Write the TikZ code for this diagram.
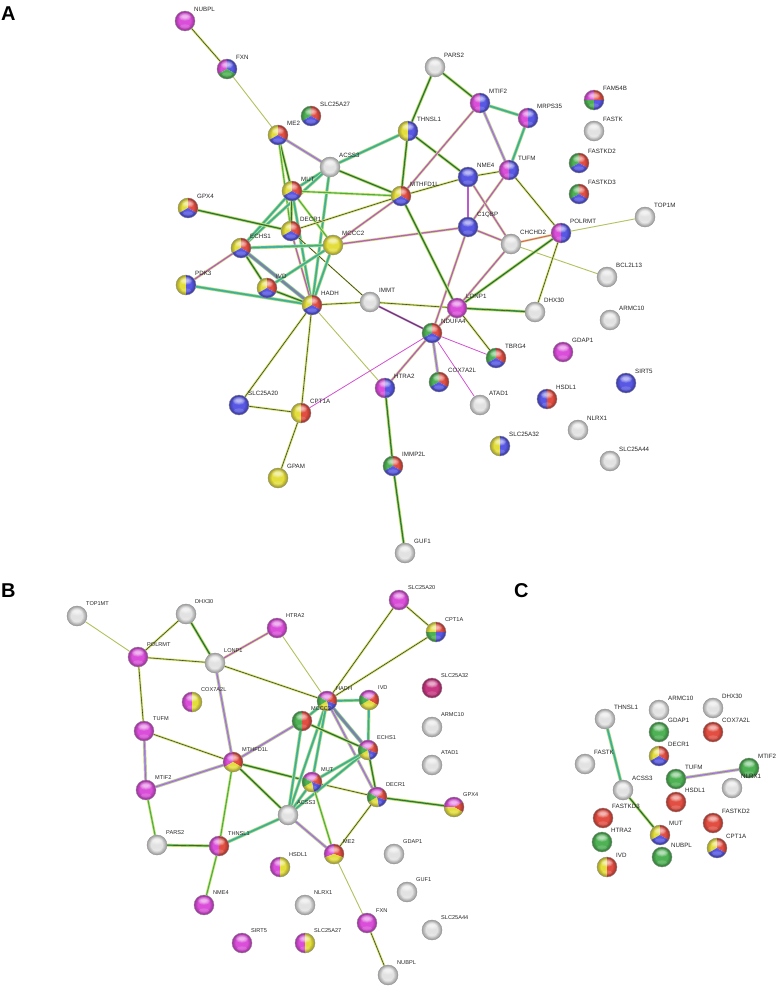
\documentclass[tikz,border=0pt]{standalone}
\usepackage{fontspec}
\setmainfont{Liberation Sans}
\pgfdeclarelayer{bg}
\pgfdeclarelayer{paper}
\pgfsetlayers{paper,bg,main}
\definecolor{cY}{RGB}{228,222,60}
\definecolor{cR}{RGB}{226,78,66}
\definecolor{cB}{RGB}{88,88,228}
\definecolor{cG}{RGB}{78,178,84}
\definecolor{cM}{RGB}{218,78,218}
\definecolor{cW}{RGB}{226,226,226}
\definecolor{cMR}{RGB}{200,55,130}
\definecolor{cTM}{RGB}{210,228,110}
\definecolor{cGr}{RGB}{70,175,80}
\definecolor{cCy}{RGB}{70,185,205}
\definecolor{cPu}{RGB}{185,90,205}
\definecolor{cLv}{RGB}{160,160,220}
\definecolor{cK}{RGB}{60,60,45}
\definecolor{cMg}{RGB}{210,80,210}
\definecolor{cPk}{RGB}{230,90,120}
\def\R{10}
\tikzset{
  ball/.style={circle, inner sep=0pt, minimum size={2*\R pt}},
  lab/.style={font=\fontsize{6.2}{7}\selectfont, text=black!85, inner sep=0pt, anchor=west},
  labB/.style={font=\fontsize{5.6}{6.5}\selectfont, text=black!85, inner sep=0pt, anchor=west},
  panel/.style={font=\fontsize{20}{22}\selectfont\bfseries, inner sep=0pt, anchor=base west},
  ey/.style={draw=cTM!85!black, line width=0.9},
  eyk/.style={draw=cK, line width=0.55, preaction={draw=cTM, line width=2.2}},
  eyg/.style={draw=cGr, line width=1.1, preaction={draw=cTM, line width=2.6}},
  eygk/.style={draw=cK, line width=0.45, preaction={draw=cTM, line width=3.0}, preaction={draw=cGr, line width=1.7}},
  eyc/.style={draw=cGr, line width=0.7, preaction={draw=cTM, line width=3.4}, preaction={draw=cCy, line width=2.2}},
  eyp/.style={draw=cPu, line width=1.3, preaction={draw=cTM, line width=2.6}},
  ebp/.style={draw=cPu, line width=0.6, preaction={draw=cTM, line width=3.2}, preaction={draw=cLv, line width=2.2}},
  ebig/.style={draw=cGr, line width=0.5, preaction={draw=cTM, line width=4.2}, preaction={draw=cCy, line width=3.2}, preaction={draw=cPu, line width=1.8}},
  emg/.style={draw=cMg, line width=0.8},
  emk/.style={draw=cK, line width=0.5, preaction={draw=cPu, line width=2}},
  ek/.style={draw=cK, line width=0.6, preaction={draw=cTM, line width=1.4}},
  emr/.style={draw=cPk, line width=1, preaction={draw=cTM, line width=2.2}}
}
\def\pW{0/360/cW}
\def\pY{0/360/cY}
\def\pR{0/360/cR}
\def\pB{0/360/cB}
\def\pG{0/360/cG}
\def\pM{0/360/cM}
\def\pYRB{90/210/cY,-30/90/cR,210/330/cB}
\def\pGRB{90/210/cG,-30/90/cR,210/330/cB}
\def\pYB{90/270/cY,-90/90/cB}
\def\pMB{90/270/cM,-90/90/cB}
\def\pYR{90/270/cY,-90/90/cR}
\def\pMY{90/270/cM,-90/90/cY}
\def\pMR{90/270/cM,-90/90/cR}
\def\pGR{90/270/cG,-90/90/cR}
\def\pBR{90/270/cB,-90/90/cR}
\def\pFIVE{50/150/cM,-20/50/cR,-80/-20/cB,210/280/cY,150/210/cG}
\newcommand\gloss[1]{%
  \foreach \k in {1,...,4}{\draw[black, opacity=0.07, line width=\k*0.9] (#1.center) circle [radius={\R-\k*0.45}];}
  \foreach \k in {1,...,4}{\fill[white, opacity=0.2] ([yshift={\R*0.42}]#1.center) ellipse [x radius={\R*(0.76-0.12*\k)}, y radius={\R*(0.46-0.08*\k)}];}
  \fill[white, opacity=0.15] ([yshift={-\R*0.55}]#1.center) ellipse [x radius={\R*0.5}, y radius={\R*0.22}];
  \draw[black!45, line width=0.35] (#1.center) circle [radius=\R];}
\newcommand\bn[6][lab]{%
  \node[ball] (#2) at (#3,-#4) {};
  \edef\tmplist{#6}%
  \foreach \sa/\ea/\cc in \tmplist {\fill[fill=\cc] (#2.center) -- ++(\sa:\R) arc[start angle=\sa, end angle=\ea, radius=\R] -- cycle;}
  \gloss{#2}
  \node[#1] (#2-l) at ([shift={(9,12)}]#2.center) {#5};}
\newcommand\lnk[3]{\draw[#1] (#2) -- (#3);}
\begin{document}
\begin{tikzpicture}[x=1pt,y=1pt]
\useasboundingbox (0,0) rectangle (778,-988);
\begin{pgfonlayer}{paper}
\fill[white] (0,0) rectangle (778,-988);
\end{pgfonlayer}
\node[panel] (pA) at (1,-20) {A};
\node[panel] (pB) at (1,-597) {B};
\node[panel] (pC) at (514,-597) {C};
% ---------------- Panel A ----------------
\bn{a-NUBPL}{185}{21}{NUBPL}{\pM}
\bn{a-FXN}{227}{69}{FXN}{90/210/cM,-30/90/cB,210/330/cG}
\bn{a-SLC25A27}{311}{116}{SLC25A27}{\pGRB}
\bn{a-ME2}{278}{135}{ME2}{\pYRB}
\bn{a-ACSS3}{330}{167}{ACSS3}{\pW}
\bn{a-MUT}{292}{191}{MUT}{\pYRB}
\bn{a-THNSL1}{408}{131}{THNSL1}{\pYB}
\bn{a-MTHFD1L}{401}{196}{MTHFD1L}{\pYRB}
\bn{a-GPX4}{188}{208}{GPX4}{\pYRB}
\bn{a-PARS2}{435}{67}{PARS2}{\pW}
\bn{a-MTIF2}{480}{103}{MTIF2}{\pMB}
\bn{a-MRPS35}{528}{118}{MRPS35}{\pMB}
\bn{a-NME4}{468}{177}{NME4}{\pB}
\bn{a-TUFM}{509}{170}{TUFM}{\pMB}
\bn{a-FAM54B}{594}{100}{FAM54B}{90/180/cM,0/90/cR,180/270/cG,270/360/cB}
\bn{a-FASTK}{594}{131}{FASTK}{\pW}
\bn{a-FASTKD2}{579}{163}{FASTKD2}{\pGRB}
\bn{a-FASTKD3}{579}{194}{FASTKD3}{\pGRB}
\bn{a-TOP1MT}{645}{217}{}{\pW}
\begin{scope}
\clip (640,-190) rectangle (674,-215);
\node[lab] (a-TOP1MT-t) at ([shift={(9,12)}]a-TOP1MT.center) {TOP1MT};
\end{scope}
\bn{a-POLRMT}{561}{233}{POLRMT}{\pMB}
\bn{a-C1QBP}{468}{227}{C1QBP}{\pB}
\bn{a-CHCHD2}{511}{244}{CHCHD2}{\pW}
\bn{a-DECR1}{291}{231}{DECR1}{\pYRB}
\bn{a-ECHS1}{241}{248}{ECHS1}{\pYRB}
\bn{a-MCCC2}{333}{245}{MCCC2}{\pY}
\bn{a-PDK3}{186}{285}{PDK3}{\pYB}
\bn{a-IVD}{267}{288}{IVD}{\pYRB}
\bn{a-HADH}{312}{305}{HADH}{\pYRB}
\bn{a-IMMT}{370}{302}{IMMT}{\pW}
\bn{a-LONP1}{457}{308}{LONP1}{\pM}
\bn{a-NDUFA4}{432}{333}{NDUFA4}{\pGRB}
\bn{a-DHX30}{535}{312}{DHX30}{\pW}
\bn{a-BCL2L13}{607}{277}{BCL2L13}{\pW}
\bn{a-ARMC10}{610}{320}{ARMC10}{\pW}
\bn{a-TBRG4}{496}{358}{TBRG4}{\pGRB}
\bn{a-GDAP1}{563}{352}{GDAP1}{\pM}
\bn{a-COX7A2L}{439}{382}{COX7A2L}{\pGRB}
\bn{a-SIRT5}{626}{383}{SIRT5}{\pB}
\bn{a-HSDL1}{547}{399}{HSDL1}{\pBR}
\bn{a-ATAD1}{480}{405}{ATAD1}{\pW}
\bn{a-NLRX1}{578}{430}{NLRX1}{\pW}
\bn{a-SLC25A32}{500}{446}{SLC25A32}{\pYB}
\bn{a-SLC25A44}{610}{461}{SLC25A44}{\pW}
\bn{a-HTRA2}{385}{388}{HTRA2}{\pMB}
\bn{a-SLC25A20}{239}{405}{SLC25A20}{\pB}
\bn{a-CPT1A}{301}{413}{CPT1A}{\pYR}
\bn{a-GPAM}{278}{478}{GPAM}{\pY}
\bn{a-IMMP2L}{393}{466}{IMMP2L}{\pGRB}
\bn{a-GUF1}{405}{553}{GUF1}{\pW}
\begin{pgfonlayer}{bg}
\lnk{eyk}{a-NUBPL}{a-FXN}
\lnk{ey}{a-FXN}{a-ME2}
\lnk{ebp}{a-ME2}{a-ACSS3}
\lnk{eygk}{a-ME2}{a-MUT}
\lnk{eyg}{a-ME2}{a-DECR1}
\lnk{eyc}{a-ACSS3}{a-THNSL1}
\lnk{eygk}{a-ACSS3}{a-MTHFD1L}
\lnk{eyc}{a-ACSS3}{a-MUT}
\lnk{eyc}{a-ACSS3}{a-ECHS1}
\lnk{eyc}{a-ACSS3}{a-HADH}
\lnk{eyc}{a-MUT}{a-ECHS1}
\lnk{eyg}{a-MUT}{a-MTHFD1L}
\lnk{eygk}{a-MUT}{a-DECR1}
\lnk{eyc}{a-MUT}{a-HADH}
\lnk{eyg}{a-MUT}{a-MCCC2}
\lnk{eyk}{a-DECR1}{a-MTHFD1L}
\lnk{eygk}{a-DECR1}{a-GPX4}
\lnk{ek}{a-DECR1}{a-IMMT}
\lnk{eyp}{a-DECR1}{a-HADH}
\lnk{eyc}{a-ECHS1}{a-MCCC2}
\lnk{eyp}{a-ECHS1}{a-PDK3}
\lnk{eygk}{a-ECHS1}{a-IVD}
\lnk{ebig}{a-ECHS1}{a-HADH}
\lnk{eyc}{a-PDK3}{a-HADH}
\lnk{eygk}{a-IVD}{a-HADH}
\lnk{eyc}{a-IVD}{a-MCCC2}
\lnk{eyc}{a-MCCC2}{a-HADH}
\lnk{eyp}{a-MCCC2}{a-MTHFD1L}
\lnk{eyp}{a-MCCC2}{a-C1QBP}
\lnk{eyk}{a-HADH}{a-IMMT}
\lnk{eyk}{a-HADH}{a-SLC25A20}
\lnk{eyk}{a-HADH}{a-CPT1A}
\lnk{ey}{a-HADH}{a-HTRA2}
\lnk{emk}{a-IMMT}{a-NDUFA4}
\lnk{eyk}{a-IMMT}{a-LONP1}
\lnk{eygk}{a-LONP1}{a-DHX30}
\lnk{eygk}{a-THNSL1}{a-PARS2}
\lnk{eygk}{a-THNSL1}{a-MTHFD1L}
\lnk{eygk}{a-THNSL1}{a-NME4}
\lnk{eygk}{a-PARS2}{a-MTIF2}
\lnk{eyc}{a-MTIF2}{a-MRPS35}
\lnk{ebp}{a-MTIF2}{a-TUFM}
\lnk{eyp}{a-MTIF2}{a-MTHFD1L}
\lnk{eyc}{a-MRPS35}{a-TUFM}
\lnk{eyk}{a-TUFM}{a-NME4}
\lnk{eyp}{a-TUFM}{a-C1QBP}
\lnk{eyk}{a-TUFM}{a-POLRMT}
\lnk{eyp}{a-NME4}{a-C1QBP}
\lnk{eyp}{a-NME4}{a-CHCHD2}
\lnk{eyk}{a-NME4}{a-MTHFD1L}
\lnk{eyp}{a-C1QBP}{a-CHCHD2}
\lnk{eyp}{a-C1QBP}{a-NDUFA4}
\lnk{emr}{a-CHCHD2}{a-POLRMT}
\lnk{eyp}{a-CHCHD2}{a-LONP1}
\lnk{ey}{a-CHCHD2}{a-BCL2L13}
\lnk{ey}{a-POLRMT}{a-TOP1MT}
\lnk{eygk}{a-POLRMT}{a-LONP1}
\lnk{eyk}{a-POLRMT}{a-DHX30}
\lnk{eygk}{a-MTHFD1L}{a-LONP1}
\lnk{emg}{a-NDUFA4}{a-TBRG4}
\lnk{eyk}{a-LONP1}{a-TBRG4}
\lnk{ebp}{a-NDUFA4}{a-COX7A2L}
\lnk{emg}{a-NDUFA4}{a-ATAD1}
\lnk{eyp}{a-NDUFA4}{a-HTRA2}
\lnk{emg}{a-NDUFA4}{a-CPT1A}
\lnk{eyp}{a-NDUFA4}{a-LONP1}
\lnk{eygk}{a-HTRA2}{a-IMMP2L}
\lnk{eygk}{a-IMMP2L}{a-GUF1}
\lnk{eyk}{a-SLC25A20}{a-CPT1A}
\lnk{eyk}{a-CPT1A}{a-GPAM}
\end{pgfonlayer}
% ---------------- Panel B ----------------
\bn[labB]{b-TOP1MT}{77}{616}{TOP1MT}{\pW}
\bn[labB]{b-DHX30}{186}{614}{DHX30}{\pW}
\bn[labB]{b-HTRA2}{277}{628}{HTRA2}{\pM}
\bn[labB]{b-POLRMT}{138}{657}{POLRMT}{\pM}
\bn[labB]{b-LONP1}{215}{663}{LONP1}{\pW}
\bn[labB]{b-COX7A2L}{192}{702}{COX7A2L}{\pMY}
\bn[labB]{b-TUFM}{144}{731}{TUFM}{\pM}
\bn[labB]{b-MTHFD1L}{233}{762}{MTHFD1L}{90/210/cM,-30/90/cR,210/330/cY}
\bn[labB]{b-MTIF2}{146}{790}{MTIF2}{\pM}
\bn[labB]{b-SLC25A20}{399}{600}{SLC25A20}{\pM}
\bn[labB]{b-CPT1A}{436}{632}{CPT1A}{90/180/cY,0/90/cR,180/270/cG,270/360/cB}
\bn[labB]{b-SLC25A32}{432}{688}{SLC25A32}{0/360/cMR}
\bn[labB]{b-HADH}{327}{701}{HADH}{\pFIVE}
\bn[labB]{b-IVD}{369}{700}{IVD}{45/150/cM,-30/45/cR,210/330/cY,150/210/cG}
\bn[labB]{b-MCCC2}{302}{721}{MCCC2}{\pGR}
\bn[labB]{b-ARMC10}{432}{727}{ARMC10}{\pW}
\bn[labB]{b-ECHS1}{368}{750}{ECHS1}{\pFIVE}
\bn[labB]{b-ATAD1}{432}{765}{ATAD1}{\pW}
\bn[labB]{b-MUT}{312}{782}{MUT}{\pFIVE}
\bn[labB]{b-DECR1}{377}{797}{DECR1}{\pFIVE}
\bn[labB]{b-GPX4}{454}{807}{GPX4}{30/180/cM,-30/30/cR,180/330/cY}
\bn[labB]{b-ACSS3}{288}{815}{ACSS3}{\pW}
\bn[labB]{b-PARS2}{157}{845}{PARS2}{\pW}
\bn[labB]{b-THNSL1}{219}{846}{THNSL1}{\pMR}
\bn[labB]{b-ME2}{334}{854}{ME2}{90/200/cM,-20/90/cR,200/340/cY}
\bn[labB]{b-GDAP1}{394}{854}{GDAP1}{\pW}
\bn[labB]{b-HSDL1}{280}{867}{HSDL1}{\pMY}
\bn[labB]{b-GUF1}{407}{892}{GUF1}{\pW}
\bn[labB]{b-NME4}{204}{905}{NME4}{\pM}
\bn[labB]{b-NLRX1}{305}{905}{NLRX1}{\pW}
\bn[labB]{b-FXN}{367}{923}{FXN}{\pM}
\bn[labB]{b-SLC25A44}{432}{930}{SLC25A44}{\pW}
\bn[labB]{b-SIRT5}{242}{943}{SIRT5}{\pM}
\bn[labB]{b-SLC25A27}{305}{943}{SLC25A27}{\pMY}
\bn[labB]{b-NUBPL}{388}{975}{NUBPL}{\pW}
\begin{pgfonlayer}{bg}
\lnk{ey}{b-TOP1MT}{b-POLRMT}
\lnk{eyk}{b-DHX30}{b-POLRMT}
\lnk{eygk}{b-DHX30}{b-LONP1}
\lnk{eyk}{b-POLRMT}{b-LONP1}
\lnk{eyk}{b-POLRMT}{b-TUFM}
\lnk{eyp}{b-HTRA2}{b-LONP1}
\lnk{ey}{b-HTRA2}{b-HADH}
\lnk{ebp}{b-LONP1}{b-MTHFD1L}
\lnk{eyk}{b-LONP1}{b-HADH}
\lnk{ebp}{b-TUFM}{b-MTIF2}
\lnk{eyk}{b-TUFM}{b-MTHFD1L}
\lnk{ebp}{b-MTIF2}{b-MTHFD1L}
\lnk{eyg}{b-MTIF2}{b-PARS2}
\lnk{eygk}{b-PARS2}{b-THNSL1}
\lnk{eyg}{b-THNSL1}{b-MTHFD1L}
\lnk{eyc}{b-THNSL1}{b-ACSS3}
\lnk{eyg}{b-THNSL1}{b-NME4}
\lnk{ebp}{b-MTHFD1L}{b-MCCC2}
\lnk{eygk}{b-MTHFD1L}{b-ACSS3}
\lnk{eygk}{b-MTHFD1L}{b-MUT}
\lnk{eyk}{b-MUT}{b-DECR1}
\lnk{eyk}{b-SLC25A20}{b-HADH}
\lnk{eyk}{b-SLC25A20}{b-CPT1A}
\lnk{eyk}{b-CPT1A}{b-HADH}
\lnk{eyc}{b-HADH}{b-IVD}
\lnk{eyc}{b-HADH}{b-MCCC2}
\lnk{ebig}{b-HADH}{b-ECHS1}
\lnk{ebp}{b-HADH}{b-DECR1}
\lnk{eyc}{b-HADH}{b-ACSS3}
\lnk{eyc}{b-HADH}{b-MUT}
\lnk{eyc}{b-IVD}{b-ECHS1}
\lnk{eygk}{b-MCCC2}{b-ECHS1}
\lnk{eyc}{b-MCCC2}{b-ACSS3}
\lnk{eyc}{b-ECHS1}{b-ACSS3}
\lnk{eyc}{b-ECHS1}{b-MUT}
\lnk{eygk}{b-ECHS1}{b-DECR1}
\lnk{eyc}{b-ACSS3}{b-MUT}
\lnk{ebp}{b-ACSS3}{b-ME2}
\lnk{eyg}{b-MUT}{b-ME2}
\lnk{eyk}{b-DECR1}{b-ME2}
\lnk{eygk}{b-DECR1}{b-GPX4}
\lnk{ey}{b-ME2}{b-FXN}
\lnk{eyk}{b-FXN}{b-NUBPL}
\end{pgfonlayer}
% ---------------- Panel C ----------------
\bn{c-THNSL1}{605}{719}{THNSL1}{\pW}
\bn{c-ARMC10}{659}{710}{ARMC10}{\pW}
\bn{c-DHX30}{713}{708}{DHX30}{\pW}
\bn{c-GDAP1}{659}{732}{GDAP1}{\pG}
\bn{c-COX7A2L}{713}{732}{COX7A2L}{\pR}
\bn{c-DECR1}{659}{756}{DECR1}{\pYRB}
\bn{c-FASTK}{585}{764}{FASTK}{\pW}
\bn{c-MTIF2}{749}{768}{MTIF2}{\pG}
\bn{c-TUFM}{676}{779}{TUFM}{\pG}
\bn{c-NLRX1}{732}{788}{NLRX1}{\pW}
\bn{c-ACSS3}{623}{790}{ACSS3}{\pW}
\bn{c-HSDL1}{676}{802}{HSDL1}{\pR}
\bn{c-FASTKD3}{603}{818}{FASTKD3}{\pR}
\bn{c-FASTKD2}{713}{823}{FASTKD2}{\pR}
\bn{c-MUT}{660}{835}{MUT}{\pYRB}
\bn{c-HTRA2}{602}{842}{HTRA2}{\pG}
\bn{c-CPT1A}{717}{848}{CPT1A}{\pYRB}
\bn{c-NUBPL}{662}{857}{NUBPL}{\pG}
\bn{c-IVD}{607}{867}{IVD}{\pYR}
\begin{pgfonlayer}{bg}
\lnk{eyc}{c-THNSL1}{c-ACSS3}
\lnk{eygk}{c-ACSS3}{c-MUT}
\lnk{ebp}{c-TUFM}{c-MTIF2}
\end{pgfonlayer}
\end{tikzpicture}
\end{document}
